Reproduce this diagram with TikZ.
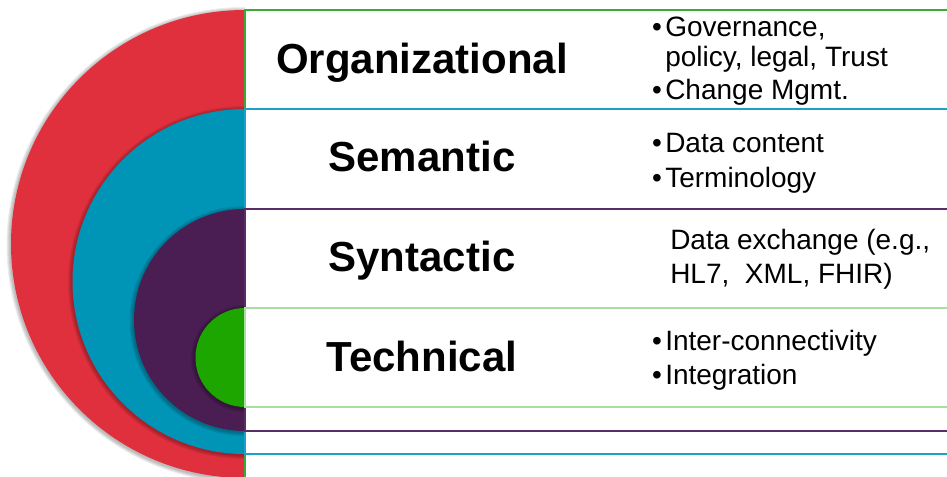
\documentclass[tikz,border=0pt]{standalone}
\usepackage{fontspec}
\setmainfont{Liberation Sans}
\definecolor{cRed}{HTML}{E0303D}
\definecolor{cBlue}{HTML}{0094B6}
\definecolor{cPurple}{HTML}{4A1D53}
\definecolor{cGreen}{HTML}{1DA600}
\definecolor{lGreen}{HTML}{3CAA36}
\definecolor{lBlue}{HTML}{1EA0C8}
\definecolor{lPurple}{HTML}{5A2D66}
\definecolor{lLight}{HTML}{A9DDA2}
\newcommand{\mybul}{\llap{•\hspace{2.5pt}}}
\newcommand{\softdisc}[4]{% x, y, r, colour
  \foreach \d in {4,3,2,1} {\fill[black, opacity=0.07] (#1-0.5,#2+1) circle[radius=#3+\d];}
  \fill[#4] (#1,#2) circle[radius=#3];}
\begin{document}
\begin{tikzpicture}[x=0.75pt,y=-0.75pt,
  lab/.style={font=\fontsize{31.5pt}{36pt}\selectfont\bfseries, anchor=base, inner sep=0pt},
  itm/.style={font=\fontsize{21pt}{24pt}\selectfont, anchor=base west, inner sep=0pt},
  frame/.style={line width=1.5pt}]
\useasboundingbox (0,0) rectangle (947,476);
\clip (0,0) rectangle (947,476);
\fill[white] (0,0) rectangle (947,476);
\begin{scope}
  \clip (0,0) rectangle (245,480);
  \softdisc{245}{244}{234}{cRed}
  \softdisc{245}{281.5}{172.5}{cBlue}
  \softdisc{245}{320}{111}{cPurple}
  \softdisc{245}{357.5}{49.5}{cGreen}
\end{scope}
\draw[frame, lGreen] (245,10) rectangle (960,478);
\draw[frame, lBlue] (245,109) rectangle (960,454);
\draw[frame, lPurple] (245,209) rectangle (960,431);
\draw[frame, lLight] (245,308) rectangle (960,407);
% labels
\node[lab] (org) at (422,73) {Organizational};
\node[lab] (sem) at (422,171) {Semantic};
\node[lab] (syn) at (422,271) {Syntactic};
\node[lab] (tec) at (422,371) {Technical};
% items
\node[itm] (o1) at (665,36.7) {\mybul Governance,};
\node[itm] (o2) at (665,66) {policy, legal, Trust};
\node[itm] (o3) at (665,99) {\mybul Change Mgmt.};
\node[itm] (s1) at (665,152) {\mybul Data content};
\node[itm] (s2) at (665,187) {\mybul Terminology};
\node[itm] (y1) at (670,249) {Data exchange (e.g.,};
\node[itm] (y2) at (670,283) {HL7,\ \ XML, FHIR)};
\node[itm] (t1) at (665,350) {\mybul Inter-connectivity};
\node[itm] (t2) at (665,384) {\mybul Integration};
\end{tikzpicture}
\end{document}
